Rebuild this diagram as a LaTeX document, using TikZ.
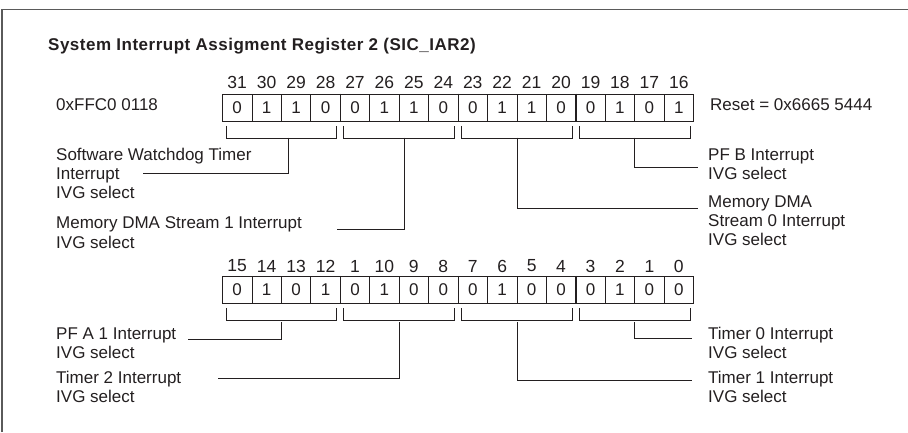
\documentclass[tikz,border=0pt]{standalone}
\usepackage{fontspec}
\setmainfont{Liberation Sans}
\newfontfamily\titlefont{Liberation Sans}[LetterSpace=3]
\definecolor{ink}{HTML}{231F20}
\definecolor{framegray}{HTML}{5A5A5A}
\begin{document}
\begin{tikzpicture}[x=1pt,y=-1pt,
  cell/.style={draw=ink, line width=0.8pt, minimum width=29.44pt, minimum height=27.5pt, inner sep=0pt, text=ink, font=\fontsize{17}{17}\selectfont},
  bitno/.style={inner sep=0pt, text=ink, font=\fontsize{17.5}{17.5}\selectfont},
  lbl/.style={anchor=base west, inner sep=0pt, text=ink, font=\fontsize{17}{19.4}\selectfont},
  lead/.style={draw=ink, line width=0.8pt},
  nib/.style={draw=ink, line width=1.6pt},
  framestyle/.style={draw=framegray, line width=1.5pt}]
\useasboundingbox (0,0) rectangle (908,432);
% frame
\draw[framestyle] (2,432) -- (2,9.5) -- (908,9.5);
% title
\node[anchor=base west, inner sep=0pt, text=ink, font=\titlefont\bfseries\fontsize{17}{17}\selectfont] (title) at (48,50.5) {System Interrupt Assigment Register 2 (SIC\_IAR2)};
% address and reset
\node[lbl] (addr) at (56,110) {0xFFC0 0118};
\node[lbl] (reset) at (710,110) {Reset = 0x6665 5444};
% top register
\foreach \v [count=\i from 0] in {0,1,1,0,0,1,1,0,0,1,1,0,0,1,0,1} {
  \pgfmathtruncatemacro\b{31-\i}
  \node[cell] (t\b) at ({222.5+29.44*(\i+0.5)},107.75) {\v};
  \node[bitno] (tn\b) at ({222.5+29.44*(\i+0.5)},82.5) {\b};
}
% bottom register
\foreach \v/\n [count=\i from 0] in {0/15,1/14,0/13,1/12,0/1,1/10,0/9,0/8,0/7,1/6,0/5,0/4,0/3,1/2,0/1,0/0} {
  \pgfmathtruncatemacro\b{15-\i}
  \node[cell] (b\b) at ({222.5+29.44*(\i+0.5)},290) {\v};
  \node[bitno] (bn\b) at ({222.5+29.44*(\i+0.5)},266) {\n};
}
% nibble boundaries
\foreach \c in {t28,t24,t20,b12,b8,b4} {
  \draw[nib] (\c.north east) -- (\c.south east);
}
% brackets
\foreach \f/\l in {t31/t28,t27/t24,t23/t20,t19/t16,b15/b12,b11/b8,b7/b4,b3/b0} {
  \draw[lead] ([xshift=4pt,yshift=-4pt]\f.south west) -- ++(0,12) -| ([xshift=-4pt,yshift=-4pt]\l.south east);
}
% leader coordinates
\coordinate (s1) at (288,137.5);   \coordinate (e1) at (143.3,173.3);
\coordinate (s2) at (404.3,137.5); \coordinate (e2) at (336.7,229);
\coordinate (s3) at (517.7,137.5); \coordinate (e3) at (697.7,208.7);
\coordinate (s4) at (634.3,137.5); \coordinate (e4) at (697.7,167.7);
\coordinate (s5) at (281.7,322);   \coordinate (e5) at (188.3,339.3);
\coordinate (s6) at (399.3,322);   \coordinate (e6) at (218.3,378.3);
\coordinate (s7) at (517.7,322);   \coordinate (e7) at (692.3,380);
\coordinate (s8) at (634.3,322);   \coordinate (e8) at (692.3,338.3);
\foreach \k in {1,...,8} { \draw[lead] (s\k) |- (e\k); }
% labels
\node[lbl] (swt1) at (56,160) {Software Watchdog Timer};
\node[lbl] (swt2) at (56,179.4) {Interrupt};
\node[lbl] (swt3) at (56,198.8) {IVG select};
\node[lbl] (md11) at (56,228.7) {Memory DMA Stream 1 Interrupt};
\node[lbl] (md12) at (56,248.1) {IVG select};
\node[lbl] (pfb1) at (708,160) {PF B Interrupt};
\node[lbl] (pfb2) at (708,179.4) {IVG select};
\node[lbl] (md01) at (708,207) {Memory DMA};
\node[lbl] (md02) at (708,226.4) {Stream 0 Interrupt};
\node[lbl] (md03) at (708,245.8) {IVG select};
\node[lbl] (pfa1) at (56,339.3) {PF A 1 Interrupt};
\node[lbl] (pfa2) at (56,358.7) {IVG select};
\node[lbl] (tm21) at (56,383.5) {Timer 2 Interrupt};
\node[lbl] (tm22) at (56,402.9) {IVG select};
\node[lbl] (tm01) at (708,339.3) {Timer 0 Interrupt};
\node[lbl] (tm02) at (708,358.7) {IVG select};
\node[lbl] (tm11) at (708,383.5) {Timer 1 Interrupt};
\node[lbl] (tm12) at (708,402.9) {IVG select};
\end{tikzpicture}
\end{document}
